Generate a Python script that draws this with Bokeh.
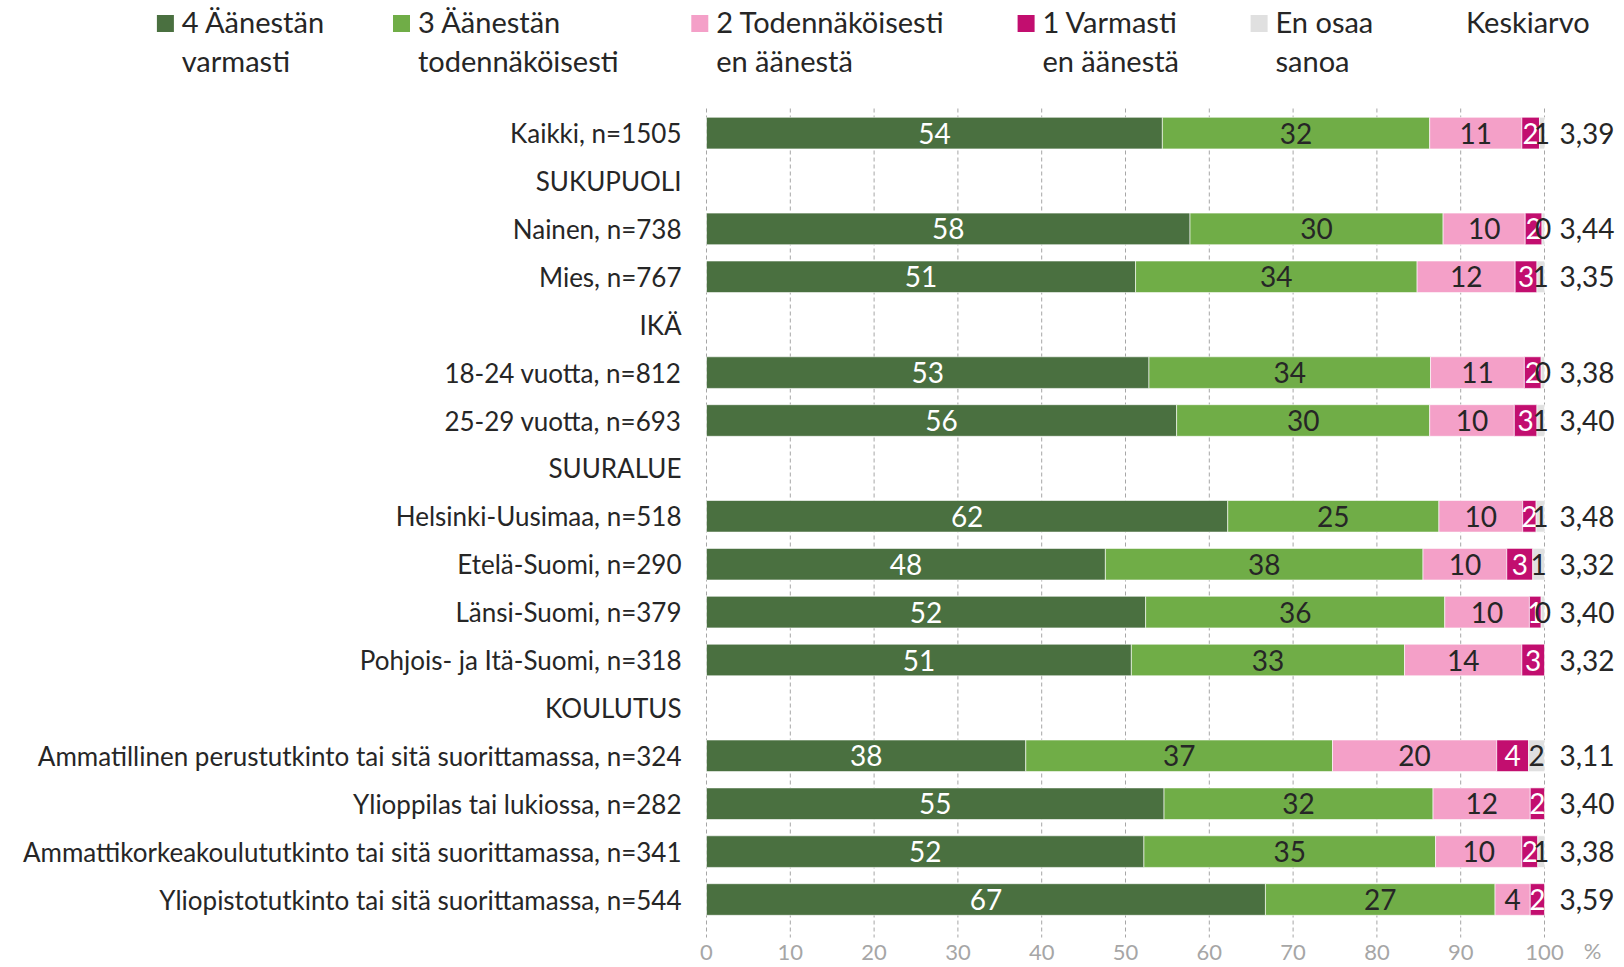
from bokeh.plotting import figure
from bokeh.models import Range1d, ColumnDataSource
from bokeh.core.properties import value
from bokeh.embed import file_html
from bokeh.resources import INLINE

# ---------------- data ----------------
categories = [
    "Kaikki, n=1505", "SUKUPUOLI", "Nainen, n=738", "Mies, n=767", "IKÄ",
    "18-24 vuotta, n=812", "25-29 vuotta, n=693", "SUURALUE",
    "Helsinki-Uusimaa, n=518", "Etelä-Suomi, n=290", "Länsi-Suomi, n=379",
    "Pohjois- ja Itä-Suomi, n=318", "KOULUTUS",
    "Ammatillinen perustutkinto tai sitä suorittamassa, n=324",
    "Ylioppilas tai lukiossa, n=282",
    "Ammattikorkeakoulututkinto tai sitä suorittamassa, n=341",
    "Yliopistotutkinto tai sitä suorittamassa, n=544",
]
s4_varmasti = [54.4, None, 57.7, 51.2, None, 52.8, 56.1, None, 62.2, 47.6, 52.4, 50.7, None, 38.1, 54.6, 52.2, 66.7]
s3_todennakoisesti = [31.9, None, 30.2, 33.6, None, 33.6, 30.2, None, 25.2, 37.9, 35.7, 32.6, None, 36.6, 32.1, 34.8, 27.4]
s2_en_todennakoisesti = [11.0, None, 9.8, 11.7, None, 11.2, 10.1, None, 10.0, 10.0, 10.1, 14.0, None, 19.6, 11.6, 10.3, 4.2]
s1_en_varmasti = [2.1, None, 2.0, 2.6, None, 2.0, 2.7, None, 1.6, 3.1, 1.4, 2.7, None, 3.8, 1.7, 1.9, 1.7]
s0_eos = [0.6, None, 0.3, 0.9, None, 0.4, 0.9, None, 1.0, 1.4, 0.4, None, None, 1.9, None, 0.8, None]
keskiarvo = [3.39, None, 3.44, 3.35, None, 3.38, 3.40, None, 3.48, 3.32, 3.40, 3.32, None, 3.11, 3.40, 3.38, 3.59]

series_labels = ["4 Äänestän\nvarmasti", "3 Äänestän\ntodennäköisesti",
                 "2 Todennäköisesti\nen äänestä", "1 Varmasti\nen äänestä", "En osaa\nsanoa"]
series_colors = ["#4a7040", "#70ad47", "#f4a0c8", "#c20e6f", "#e0e0e0"]
label_colors = ["#ffffff", "#262626", "#262626", "#ffffff", "#262626"]
x_ticks = [0, 10, 20, 30, 40, 50, 60, 70, 80, 90, 100]
x_unit = "%"

# ---------------- layout helpers ----------------
W, H = 1620, 966
X0_PX, X100_PX = 706, 1544
ROW0_PX, ROW_STEP = 132.6, 47.9
ppu = (X100_PX - X0_PX) / 100.0

def px_x(X):
    return (X - X0_PX) / ppu

def px_y(Y):
    return -(Y - ROW0_PX) / ROW_STEP

FONT = "Lato"
TXT = "#262626"
FS_CAT = "26px"
FS_NUM = "28px"
FS_LEG = "29px"

p = figure(width=W, height=H, output_backend="svg", toolbar_location=None,
           x_range=Range1d(px_x(0), px_x(W)),
           y_range=Range1d(px_y(H), px_y(0)),
           min_border_left=0, min_border_right=0, min_border_top=0,
           min_border_bottom=0, y_axis_location=None, x_axis_location=None,
           outline_line_color=None)
p.xgrid.visible = False
p.ygrid.visible = False

ys = [-i for i in range(len(categories))]

# dashed gridlines
p.segment(x0=x_ticks, x1=x_ticks, y0=[px_y(108)] * len(x_ticks),
          y1=[px_y(937)] * len(x_ticks),
          line_color="#a6a6a6", line_width=1, line_dash="4 3")

# value-axis tick labels
p.text(x=x_ticks, y=[px_y(952)] * len(x_ticks), text=[str(t) for t in x_ticks],
       text_align="center", text_baseline="middle", text_color="#a6a6a6",
       text_font=value(FONT), text_font_size="22px")
p.text(x=[px_x(1592)], y=[px_y(950)], text=[x_unit],
       text_align="center", text_baseline="middle", text_color="#a6a6a6",
       text_font=value(FONT), text_font_size="22px")

# stacked bars
all_series = [s4_varmasti, s3_todennakoisesti, s2_en_todennakoisesti, s1_en_varmasti, s0_eos]
cum = [0.0] * len(categories)
for vals, col, lcol in zip(all_series, series_colors, label_colors):
    yy, lefts, rights, mids, txts = [], [], [], [], []
    for i, v in enumerate(vals):
        if v is None:
            continue
        yy.append(ys[i])
        lefts.append(cum[i])
        rights.append(cum[i] + v)
        mids.append(cum[i] + v / 2.0)
        txts.append(str(int(v + 0.5)))
        cum[i] += v
    src = ColumnDataSource(dict(y=yy, left=lefts, right=rights, mid=mids, txt=txts))
    p.hbar(y="y", left="left", right="right", height=0.66, source=src,
           fill_color=col, line_color="white", line_width=1, line_alpha=0.6)
    p.text(x="mid", y="y", text="txt", source=src, text_align="center",
           text_baseline="middle", text_color=lcol, text_font=value(FONT),
           text_font_size=FS_NUM)

# category labels
p.text(x=[px_x(681)] * len(categories), y=ys, text=categories,
       text_align="right", text_baseline="middle", text_color=TXT,
       text_font=value(FONT), text_font_size=FS_CAT)

# means
m_y = [ys[i] for i, m in enumerate(keskiarvo) if m is not None]
m_t = [("%.2f" % m).replace(".", ",") for m in keskiarvo if m is not None]
p.text(x=[px_x(1559)] * len(m_y), y=m_y, text=m_t, text_align="left",
       text_baseline="middle", text_color=TXT, text_font=value(FONT),
       text_font_size=FS_NUM)

# legend
sq_px = [156.4, 392.5, 690.8, 1017.1, 1250.1]
tx_px = [181.2, 417.4, 715.7, 1041.9, 1275.0]
p.scatter(x=[px_x(v + 8.5) for v in sq_px], y=[px_y(23)] * 5, marker="square",
          size=17, fill_color=series_colors, line_color=None)
l1 = [s.split("\n")[0] for s in series_labels]
l2 = [s.split("\n")[1] for s in series_labels]
p.text(x=[px_x(v) for v in tx_px], y=[px_y(21)] * 5, text=l1,
       text_align="left", text_baseline="middle", text_color=TXT,
       text_font=value(FONT), text_font_size=FS_LEG)
p.text(x=[px_x(v) for v in tx_px], y=[px_y(60)] * 5, text=l2,
       text_align="left", text_baseline="middle", text_color=TXT,
       text_font=value(FONT), text_font_size=FS_LEG)
p.text(x=[px_x(1465.5)], y=[px_y(21)], text=["Keskiarvo"],
       text_align="left", text_baseline="middle", text_color=TXT,
       text_font=value(FONT), text_font_size=FS_LEG)

open("out.html", "w").write(file_html(p, INLINE))
